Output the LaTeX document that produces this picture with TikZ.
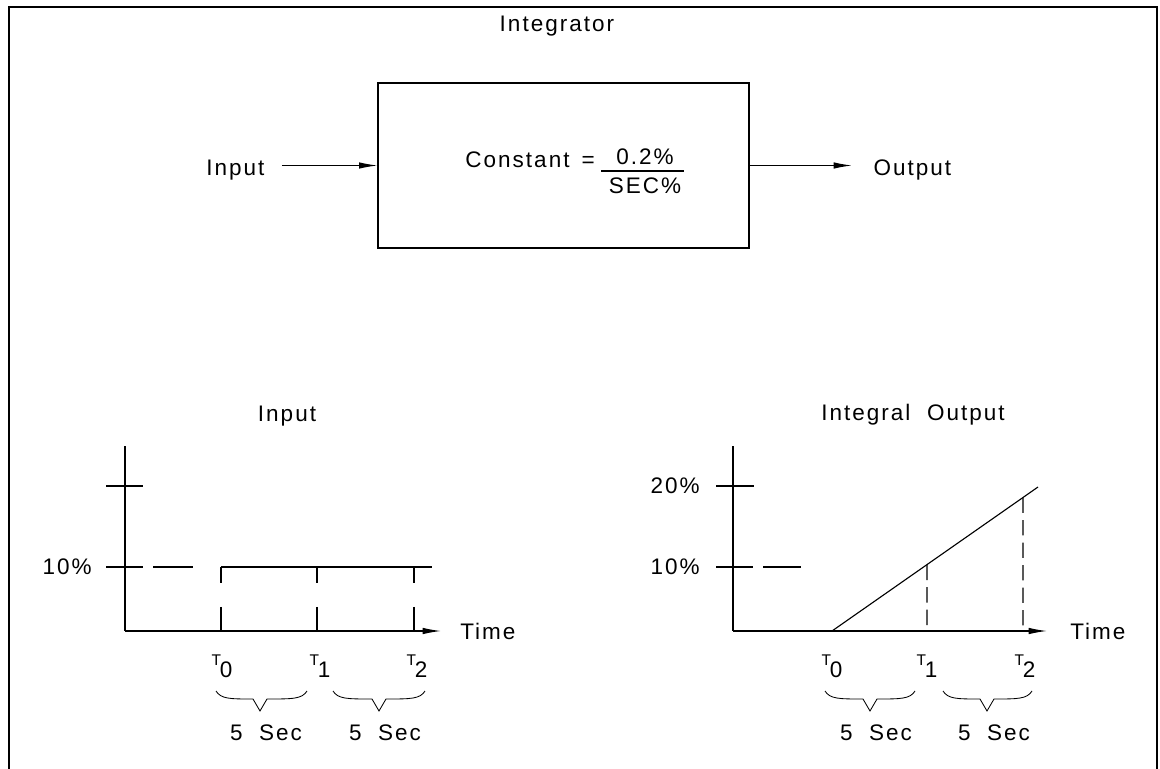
\documentclass[tikz,border=0pt]{standalone}
\usepackage{fontspec}
\setmainfont{Liberation Sans}[LetterSpace=9]
\usetikzlibrary{arrows.meta,calc}
\tikzset{>={Latex[length=13pt,width=4.6pt]}}
% time mark: small raised T with full size index
\newcommand{\tlab}[1]{\raisebox{8pt}{\fontsize{11}{11}\selectfont T}\kern-1pt#1}

\begin{document}
\begin{tikzpicture}[x=0.025cm,y=-0.025cm,line width=0.8pt,
    every node/.style={font=\fontsize{16}{19}\selectfont},
    gapdash/.style={dash pattern=on 11.4pt off 17pt on 18pt off 10pt},
    rampdash/.style={dash pattern=on 11pt off 5pt}]
  \useasboundingbox (0,0) rectangle (1160,769);
  \draw[line width=1.8pt] (9,769) -- (9,7) -- (1157,7) -- (1157,769);

  % integrator block
  \node[draw,minimum width=9.275cm,minimum height=4.125cm] (intg) at (563.5,165.5) {};
  \node (title) at (557,26) {Integrator};
  \node[inner sep=0,anchor=base east] (inlbl) at (265,175) {Input};
  \node[inner sep=0,anchor=base west] (outlbl) at (873,175) {Output};
  \draw[->,shorten <=12pt] (inlbl.east |- intg.west) -- (intg.west);
  \draw[->] (intg.east) -- ([xshift=-15pt]outlbl.west |- intg.east);
  \node[anchor=east] (const) at (600,160) {Constant \,=};
  \node (num) at (645,157) {0.2\%};
  \node (den) at (645,186) {SEC\%};
  \draw (601,171) -- (684,171);

  % input chart
  \coordinate (o1) at (125,631);
  \node (intitle) at (287,416) {Input};
  \draw (125,446) -- (o1);
  \draw[->] (o1) -- (441,631);
  \node[anchor=west] (time1) at (455,631) {Time};
  \draw (106,486) -- (143,486);
  \draw (106,567) -- (143,567) (153,567) -- (193,567);
  \node[anchor=east] at (97,567) {10\%};
  \draw (221,567) -- (432,567);
  \foreach \x in {221,317,414}
    \draw[gapdash] (\x,567) -- (\x,631);
  \node[anchor=north] at (222,650) {\tlab{0}};
  \node[anchor=north] at (320,650) {\tlab{1}};
  \node[anchor=north] at (417,650) {\tlab{2}};

  % integral output chart
  \coordinate (o2) at (733,631);
  \coordinate (r0) at (832,631);
  \coordinate (r1) at (1038,487);
  \node (outtitle) at (913,415) {Integral~ Output};
  \draw (733,446) -- (o2);
  \draw[->] (o2) -- (1047,631);
  \node[anchor=west] (time2) at (1065,631) {Time};
  \draw (716,486) -- (754,486);
  \draw (716,567) -- (753,567) (763,567) -- (801,567);
  \node[anchor=east] at (705,486) {20\%};
  \node[anchor=east] at (705,567) {10\%};
  \draw (r0) -- (r1);
  \draw[rampdash] ($(r0)!0.461!(r1)$) -- (927,631);
  \draw[rampdash] ($(r0)!0.927!(r1)$) -- (1023,631);
  \node[anchor=north] at (832,650) {\tlab{0}};
  \node[anchor=north] at (927,650) {\tlab{1}};
  \node[anchor=north] at (1025,650) {\tlab{2}};

  % braces under the time marks
  \foreach \a/\m/\b in {216/260/307,333/379/425,825/870/915,943/987/1032}
    \draw[line width=0.6pt] (\a,691) .. controls (\a+5,699) and (\a+14,699) .. (\m-7,699)
      -- (\m,711) -- (\m+7,699) .. controls (\b-14,699) and (\b-5,699) .. (\b,691);
  \foreach \x in {266,385,876,994}
    \node at (\x,733) {5~ Sec};
\end{tikzpicture}
\end{document}
